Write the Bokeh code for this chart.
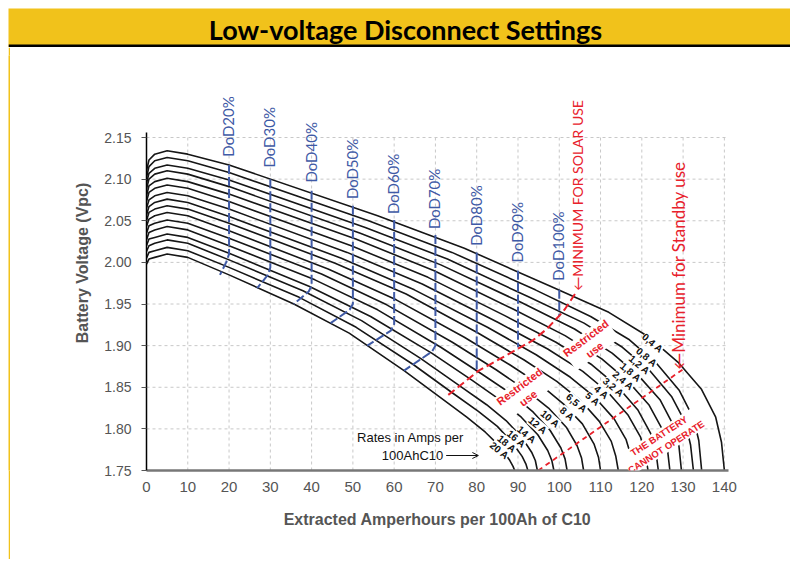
from bokeh.plotting import figure
from bokeh.models import (ColumnDataSource, Label, LabelSet, Arrow, OpenHead, FixedTicker,
                          NumeralTickFormatter, Range1d)
from bokeh.layouts import column, row
from bokeh.core.properties import value
from bokeh.embed import file_html
from bokeh.resources import INLINE

TITLE = "Low-voltage Disconnect Settings"

RATES = ["0,4 A", "0,8 A", "1,2 A", "1,8 A", "2,4 A", "3,2 A", "4 A", "5 A",
         "6,5 A", "8 A", "10 A", "12 A", "14 A", "16 A", "18 A", "20 A"]

CURVE_X = [
    [0, 0.6, 2, 5, 10, 20, 56.0, 77.0, 98.0, 112.0, 121.8, 128.8, 134.4, 137.9, 139.3, 140.0],
    [0, 0.6, 2, 5, 10, 20, 53.8, 74.0, 94.2, 107.6, 117.0, 123.7, 129.1, 132.5, 133.8, 134.5],
    [0, 0.6, 2, 5, 10, 20, 53.0, 72.9, 92.8, 106.0, 115.3, 121.9, 127.2, 130.5, 131.8, 132.5],
    [0, 0.6, 2, 5, 10, 20, 51.8, 71.3, 90.7, 103.7, 112.8, 119.2, 124.4, 127.7, 129.0, 129.6],
    [0, 0.6, 2, 5, 10, 20, 50.7, 69.7, 88.8, 101.4, 110.3, 116.7, 121.7, 124.9, 126.2, 126.8],
    [0, 0.6, 2, 5, 10, 20, 49.6, 68.2, 86.8, 99.2, 107.9, 114.1, 119.0, 122.1, 123.4, 124.0],
    [0, 0.6, 2, 5, 10, 20, 48.6, 66.8, 85.1, 97.2, 105.7, 111.8, 116.6, 119.7, 120.9, 121.5],
    [0, 0.6, 2, 5, 10, 20, 47.2, 64.9, 82.6, 94.4, 102.7, 108.6, 113.3, 116.2, 117.4, 118.0],
    [0, 0.6, 2, 5, 10, 20, 45.7, 62.9, 80.0, 91.4, 99.4, 105.2, 109.7, 112.6, 113.7, 114.3],
    [0, 0.6, 2, 5, 10, 20, 44.0, 60.5, 77.0, 88.0, 95.7, 101.2, 105.6, 108.4, 109.5, 110.0],
    [0, 0.6, 2, 5, 10, 20, 42.4, 58.2, 74.1, 84.7, 92.1, 97.4, 101.7, 104.3, 105.4, 105.9],
    [0, 0.6, 2, 5, 10, 20, 40.8, 56.0, 71.3, 81.5, 88.7, 93.7, 97.8, 100.4, 101.4, 101.9],
    [0, 0.6, 2, 5, 10, 20, 39.5, 54.3, 69.1, 79.0, 85.9, 90.8, 94.8, 97.2, 98.2, 98.7],
    [0, 0.6, 2, 5, 10, 20, 37.9, 52.1, 66.3, 75.8, 82.4, 87.1, 90.9, 93.3, 94.2, 94.7],
    [0, 0.6, 2, 5, 10, 20, 37.0, 50.8, 64.7, 73.9, 80.4, 85.0, 88.7, 91.0, 91.9, 92.4],
    [0, 0.6, 2, 5, 10, 20, 35.7, 49.1, 62.4, 71.4, 77.6, 82.1, 85.6, 87.9, 88.8, 89.2],
]
CURVE_V = [
    [2.110, 2.123, 2.130, 2.134, 2.130, 2.117, 2.056, 2.017, 1.971, 1.940, 1.910, 1.880, 1.848, 1.814, 1.784, 1.750],
    [2.102, 2.115, 2.122, 2.126, 2.122, 2.108, 2.050, 2.012, 1.967, 1.935, 1.907, 1.878, 1.846, 1.813, 1.786, 1.750],
    [2.095, 2.107, 2.113, 2.117, 2.113, 2.099, 2.042, 2.004, 1.958, 1.927, 1.898, 1.870, 1.839, 1.808, 1.781, 1.750],
    [2.088, 2.100, 2.106, 2.110, 2.106, 2.091, 2.035, 1.997, 1.952, 1.920, 1.891, 1.864, 1.835, 1.804, 1.779, 1.750],
    [2.080, 2.092, 2.097, 2.101, 2.097, 2.082, 2.028, 1.990, 1.944, 1.912, 1.884, 1.857, 1.829, 1.800, 1.776, 1.750],
    [2.073, 2.084, 2.089, 2.093, 2.089, 2.073, 2.020, 1.982, 1.936, 1.904, 1.877, 1.851, 1.823, 1.795, 1.773, 1.750],
    [2.065, 2.075, 2.080, 2.084, 2.080, 2.064, 2.012, 1.974, 1.928, 1.896, 1.869, 1.844, 1.817, 1.790, 1.769, 1.750],
    [2.057, 2.067, 2.072, 2.076, 2.072, 2.055, 2.005, 1.967, 1.922, 1.889, 1.862, 1.838, 1.812, 1.787, 1.767, 1.750],
    [2.050, 2.060, 2.064, 2.068, 2.064, 2.047, 1.999, 1.962, 1.916, 1.883, 1.857, 1.834, 1.809, 1.785, 1.767, 1.750],
    [2.043, 2.052, 2.056, 2.060, 2.056, 2.038, 1.992, 1.955, 1.910, 1.877, 1.852, 1.829, 1.806, 1.782, 1.766, 1.750],
    [2.035, 2.044, 2.047, 2.051, 2.047, 2.029, 1.986, 1.949, 1.904, 1.871, 1.846, 1.825, 1.802, 1.780, 1.765, 1.750],
    [2.027, 2.036, 2.039, 2.043, 2.039, 2.020, 1.979, 1.943, 1.898, 1.865, 1.841, 1.820, 1.798, 1.777, 1.764, 1.750],
    [2.020, 2.028, 2.030, 2.034, 2.030, 2.011, 1.971, 1.935, 1.891, 1.858, 1.834, 1.814, 1.793, 1.774, 1.762, 1.750],
    [2.013, 2.020, 2.023, 2.027, 2.023, 2.003, 1.966, 1.930, 1.885, 1.852, 1.829, 1.810, 1.790, 1.772, 1.762, 1.750],
    [2.005, 2.012, 2.014, 2.018, 2.014, 1.994, 1.958, 1.922, 1.877, 1.844, 1.821, 1.803, 1.783, 1.767, 1.758, 1.750],
    [1.998, 2.004, 2.006, 2.010, 2.006, 1.985, 1.950, 1.915, 1.870, 1.837, 1.814, 1.796, 1.779, 1.763, 1.755, 1.750],
]

RATE_LABEL_X = [122.6, 121.2, 119.4, 117.3, 115.5, 113.1, 110.2, 108.1,
                104.2, 101.9, 97.8, 94.8, 92.1, 89.6, 87.3, 85.5]
RATE_LABEL_V = [1.903, 1.886, 1.877, 1.868, 1.858, 1.850, 1.844, 1.836,
                1.831, 1.818, 1.812, 1.804, 1.793, 1.788, 1.782, 1.774]

DOD_NAMES = ["DoD20%", "DoD30%", "DoD40%", "DoD50%", "DoD60%",
             "DoD70%", "DoD80%", "DoD90%", "DoD100%"]
DOD_X = [20, 30, 40, 50, 60, 70, 80, 90, 100]
DOD_LABEL_V = [2.127, 2.114, 2.096, 2.076, 2.058, 2.040, 2.020, 2.000, 1.978]
DOD_PATH_X = [
    [20, 20, 19.3, 17.8],
    [30, 30, 29.4, 26.8],
    [40, 40, 39.3, 35.7],
    [50, 50, 49.2, 44.6],
    [60, 60, 59.2, 53.5],
    [70, 70, 69.2, 62.4],
    [80, 80],
    [90, 90],
    [100, 100],
]
DOD_PATH_V = [
    [2.117, 2.010, 2.000, 1.985],
    [2.100, 1.994, 1.985, 1.969],
    [2.086, 1.972, 1.965, 1.950],
    [2.068, 1.950, 1.943, 1.927],
    [2.051, 1.926, 1.918, 1.900],
    [2.033, 1.900, 1.893, 1.870],
    [2.012, 1.868],
    [1.990, 1.898],
    [1.967, 1.935],
]

SOLAR_X = [103.8, 101.4, 100.2, 97.0, 93.5, 90.6, 84.9, 80.5, 72.4]
SOLAR_V = [1.962, 1.944, 1.937, 1.920, 1.906, 1.898, 1.882, 1.870, 1.838]
STANDBY_X = [94.9, 130.4]
STANDBY_V = [1.750, 1.873]

X_TICKS = [0, 10, 20, 30, 40, 50, 60, 70, 80, 90, 100, 110, 120, 130, 140]
Y_TICKS = [1.75, 1.80, 1.85, 1.90, 1.95, 2.00, 2.05, 2.10, 2.15]

YELLOW = "#f1c21b"
BLUE = "#3f5aa6"
RED = "#e8212b"
GRAY = "#555555"

MAIN_H = 512

# ---------- banner ----------
banner = figure(width=782, height=39, x_range=Range1d(0, 782), y_range=Range1d(0, 39),
                x_axis_type=None, y_axis_type=None, toolbar_location=None,
                output_backend="svg", min_border=0)
banner.grid.visible = False
banner.outline_line_color = None
banner.background_fill_color = YELLOW
banner.border_fill_color = YELLOW
banner.quad(left=[0], right=[782], bottom=[0], top=[3], fill_color="black", line_color=None)
banner.text(x=[397], y=[18], text=[TITLE], text_font=value("Lato"), text_font_style="bold",
            text_font_size="27px", text_align="center", text_baseline="middle", text_color="black")

# ---------- left strip ----------
strip = figure(width=2, height=MAIN_H, x_axis_type=None, y_axis_type=None, toolbar_location=None,
               output_backend="svg", min_border=0)
strip.grid.visible = False
strip.outline_line_color = None
strip.background_fill_color = YELLOW
strip.border_fill_color = YELLOW

# ---------- main chart ----------
p = figure(width=772, height=MAIN_H, x_range=Range1d(0, 141), y_range=Range1d(1.75, 2.2485),
           toolbar_location=None, output_backend="svg",
           min_border_left=136, min_border_right=54, min_border_top=8,
           min_border_bottom=MAIN_H - 423)
p.outline_line_color = None
p.grid.visible = False
p.background_fill_color = "white"
p.border_fill_color = "white"

# grid
p.segment(x0=X_TICKS[1:], y0=[Y_TICKS[0]] * (len(X_TICKS) - 1),
          x1=X_TICKS[1:], y1=[Y_TICKS[-1]] * (len(X_TICKS) - 1),
          line_color="#c8c8c8", line_width=1, line_dash="3 3")
p.segment(x0=[0] * (len(Y_TICKS) - 1), y0=Y_TICKS[1:],
          x1=[141] * (len(Y_TICKS) - 1), y1=Y_TICKS[1:],
          line_color="#c8c8c8", line_width=1, line_dash="3 3")

# axes
p.xaxis.ticker = FixedTicker(ticks=X_TICKS)
p.yaxis.ticker = FixedTicker(ticks=Y_TICKS)
p.yaxis.formatter = NumeralTickFormatter(format="0.00")
p.yaxis.bounds = (1.75, 2.156)
p.xaxis.axis_label = "Extracted Amperhours per 100Ah of C10"
p.yaxis.axis_label = "Battery Voltage (Vpc)"
for ax in (p.xaxis[0], p.yaxis[0]):
    ax.major_label_text_font = "Liberation Sans"
    ax.major_label_text_color = GRAY
    ax.axis_label_text_font = "Liberation Sans"
    ax.axis_label_text_font_size = "16px"
    ax.axis_label_text_font_style = "bold"
    ax.axis_label_text_color = GRAY
    ax.minor_tick_line_color = None
p.xaxis.major_label_text_font_size = "15px"
p.yaxis.major_label_text_font_size = "14px"
p.xaxis.axis_line_color = "#777777"
p.xaxis.axis_line_width = 2.5
p.xaxis.major_tick_line_color = None
p.xaxis.major_label_standoff = 5
p.xaxis.axis_label_standoff = 16
p.yaxis.axis_line_color = "black"
p.yaxis.axis_line_width = 1.5
p.yaxis.major_tick_line_color = GRAY
p.yaxis.major_tick_out = 5
p.yaxis.major_tick_in = 0
p.yaxis.major_label_standoff = 10
p.yaxis.axis_label_standoff = 10

# discharge curves
curve_src = ColumnDataSource(dict(xs=CURVE_X, ys=CURVE_V, rate=RATES))
p.multi_line(xs="xs", ys="ys", source=curve_src, line_color="#161616", line_width=1.6,
             line_join="round")

# DoD lines
p.multi_line(xs=DOD_PATH_X, ys=DOD_PATH_V, line_color=BLUE, line_width=2, line_dash="9 3")

# red limit lines
p.line(SOLAR_X, SOLAR_V, line_color=RED, line_width=2, line_dash="8 4")
p.line(STANDBY_X, STANDBY_V, line_color=RED, line_width=1.8, line_dash="5 4")

# rate labels
rate_src = ColumnDataSource(dict(x=RATE_LABEL_X, y=RATE_LABEL_V, text=RATES))
p.add_layout(LabelSet(x="x", y="y", text="text", source=rate_src, angle=-40, angle_units="deg",
                      text_font=value("Liberation Sans"), text_font_style="bold",
                      text_font_size="10px", text_align="center", text_baseline="middle",
                      text_color="#111111", background_fill_color="white"))

# DoD labels
dod_src = ColumnDataSource(dict(x=DOD_X, y=DOD_LABEL_V, text=DOD_NAMES))
p.add_layout(LabelSet(x="x", y="y", text="text", source=dod_src, angle=90, angle_units="deg",
                      x_offset=-1, text_font=value("Lato"), text_font_size="15px",
                      text_align="left", text_baseline="middle", text_color=BLUE))

# red annotations
p.add_layout(Label(x=104.3, y=1.966, text="\u2190MINIMUM FOR SOLAR USE", angle=90, angle_units="deg",
                   text_font="Lato", text_font_size="14px", text_color=RED,
                   text_align="left", text_baseline="middle"))
p.add_layout(Label(x=129.0, y=1.871, text="\u2190Minimum for Standby use", angle=90, angle_units="deg",
                   text_font="Lato", text_font_size="17px", text_color=RED,
                   text_align="left", text_baseline="middle"))
for lx, ly in ((107.5, 1.902), (91.4, 1.844)):
    p.add_layout(Label(x=lx, y=ly, text="Restricted\nuse", angle=37, angle_units="deg",
                       text_font="Liberation Sans", text_font_style="bold", text_font_size="11px",
                       text_color=RED, text_align="center", text_baseline="middle",
                       background_fill_color="white"))
p.add_layout(Label(x=125.0, y=1.785, text="THE BATTERY\nCANNOT OPERATE", angle=33, angle_units="deg",
                   text_font="Liberation Sans", text_font_style="bold", text_font_size="9.5px",
                   text_color=RED, text_align="center", text_baseline="middle",
                   background_fill_color="white"))

# rates note
p.add_layout(Label(x=51.0, y=1.790, text="Rates in Amps per", text_font="Liberation Sans",
                   text_font_size="13px", text_color="#111111", text_align="left",
                   text_baseline="middle"))
p.add_layout(Label(x=71.9, y=1.768, text="100AhC10", text_font="Liberation Sans",
                   text_font_size="13px", text_color="#111111", text_align="right",
                   text_baseline="middle"))
p.add_layout(Arrow(x_start=72.6, y_start=1.768, x_end=80.4, y_end=1.768, line_width=1,
                   line_color="#111111", end=OpenHead(size=6, line_width=1, line_color="#111111")))

layout = column(banner, row(strip, p), margin=(8, 0, 0, 8))
open("out.html", "w").write(file_html(layout, INLINE))
